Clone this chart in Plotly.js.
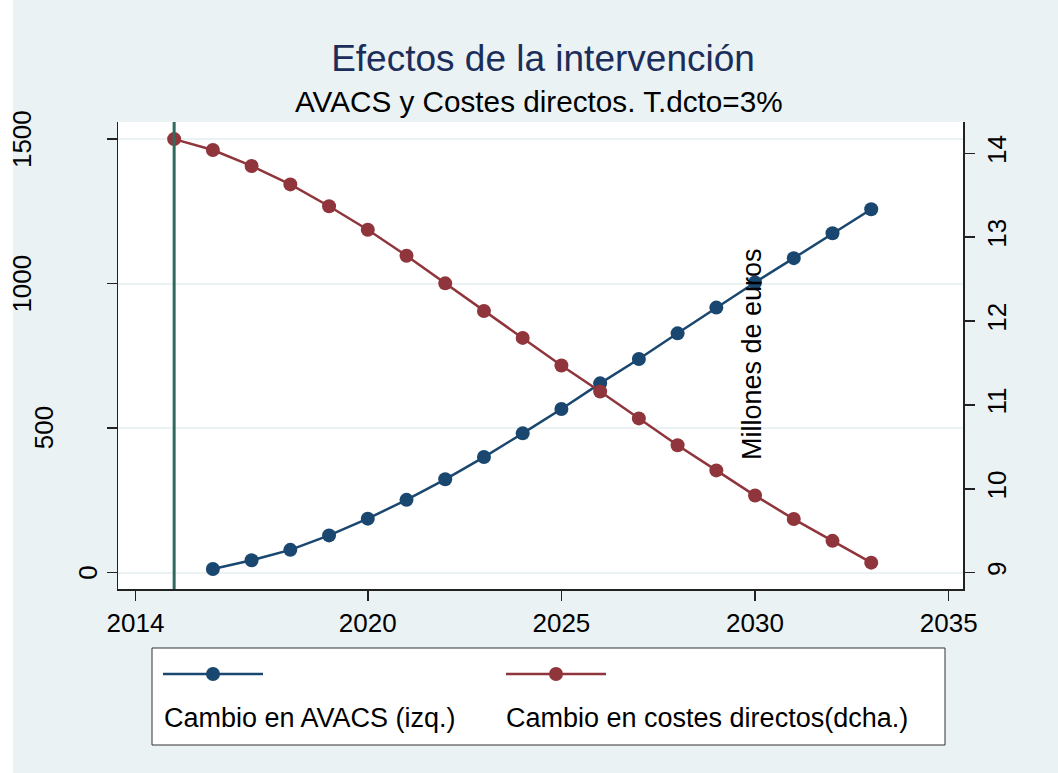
<!DOCTYPE html>
<html>
<head>
<meta charset="utf-8">
<script src="https://cdn.plot.ly/plotly-3.0.1.min.js"></script>
<style>
  html, body { margin: 0; padding: 0; background: #EAF2F3; }
  #chart { width: 1058px; height: 773px; }
</style>
</head>
<body>
<div id="chart"></div>
<script>
// ---- data ----
const titleText = "Efectos de la intervención";
const subtitleText = "AVACS y Costes directos. T.dcto=3%";
const yearsAvacs = [2016, 2017, 2018, 2019, 2020, 2021, 2022, 2023, 2024, 2025, 2026, 2027, 2028, 2029, 2030, 2031, 2032, 2033];
const avacs = [13, 43, 79, 129, 187, 252, 323, 400, 482, 566, 655, 739, 828, 917, 1004, 1088, 1174, 1257];
const yearsCostes = [2015, 2016, 2017, 2018, 2019, 2020, 2021, 2022, 2023, 2024, 2025, 2026, 2027, 2028, 2029, 2030, 2031, 2032, 2033];
const costes = [14.17, 14.04, 13.85, 13.63, 13.37, 13.09, 12.78, 12.45, 12.12, 11.80, 11.47, 11.16, 10.84, 10.52, 10.22, 9.92, 9.64, 9.38, 9.12];
const interventionYear = 2015;
const xTicks = [2014, 2020, 2025, 2030, 2035];
const yLeftTicks = [0, 500, 1000, 1500];
const yRightTicks = [9, 10, 11, 12, 13, 14];
const seriesNames = ["Cambio en AVACS (izq.)", "Cambio en costes directos(dcha.)"];
const rightAxisTitle = "Millones de euros";

// ---- styles ----
const FONT = "Liberation Sans, Arial, sans-serif";
const BLUE = "#1A476F";
const RED = "#90353B";
const GREEN = "#2E6B5E";
const AXIS = "#222222";
const GRID = "#EAF2F3";

const traces = [
  {
    x: yearsAvacs, y: avacs, type: "scatter", mode: "lines+markers",
    name: seriesNames[0], yaxis: "y",
    line: { color: BLUE, width: 2.5 },
    marker: { color: BLUE, size: 14 },
    showlegend: false
  },
  {
    x: yearsCostes, y: costes, type: "scatter", mode: "lines+markers",
    name: seriesNames[1], yaxis: "y2",
    line: { color: RED, width: 2.5 },
    marker: { color: RED, size: 14 },
    showlegend: false
  }
];

// plot area in pixels: x 118..963, y 122..589
const L = 118, R = 963, T = 122, B = 589;
const W = R - L, H = B - T;
const px = v => (v - L) / W;
const py = v => (B - v) / H;

const annotations = [
  { text: subtitleText, xref: "paper", yref: "paper", x: px(539), y: py(101),
    xanchor: "center", yanchor: "middle", showarrow: false,
    font: { family: FONT, size: 29.7, color: "#000" } },
  { text: rightAxisTitle, xref: "paper", yref: "paper", x: px(752), y: py(354),
    xanchor: "center", yanchor: "middle", showarrow: false, textangle: -90,
    font: { family: FONT, size: 27, color: "#000" } },
  { text: seriesNames[0], xref: "paper", yref: "paper", x: px(162), y: py(718),
    xanchor: "left", yanchor: "middle", showarrow: false,
    font: { family: FONT, size: 27, color: "#000" } },
  { text: seriesNames[1], xref: "paper", yref: "paper", x: px(504), y: py(718),
    xanchor: "left", yanchor: "middle", showarrow: false,
    font: { family: FONT, size: 27, color: "#000" } }
];
// left tick labels (Stata-style vertical labels, offset grows with label length)
yLeftTicks.forEach(v => {
  const n = String(v).length;
  annotations.push({
    text: String(v), xref: "paper", yref: "y", x: 0, y: v,
    xanchor: "center", yanchor: "middle", showarrow: false, textangle: -90,
    xshift: -8 - 22 * n,
    font: { family: FONT, size: 26, color: "#000" }
  });
});

const shapes = [
  // thin white strip at the left edge of the picture
  { type: "rect", xref: "paper", yref: "paper", x0: px(0), x1: px(13), y0: py(773), y1: py(0),
    fillcolor: "#FFFFFF", line: { width: 0 }, layer: "below" },
  { type: "line", xref: "x", yref: "paper", x0: interventionYear, x1: interventionYear, y0: 0, y1: 1,
    line: { color: GREEN, width: 3 } },
  // legend box
  { type: "rect", xref: "paper", yref: "paper", x0: px(152), x1: px(945), y0: py(648), y1: py(745),
    fillcolor: "#FFFFFF", line: { color: "#333333", width: 1 }, layer: "below" },
  { type: "line", xref: "paper", yref: "paper", x0: px(163), x1: px(263), y0: py(674), y1: py(674),
    line: { color: BLUE, width: 2.5 } },
  { type: "circle", xref: "paper", yref: "paper", xsizemode: "pixel", ysizemode: "pixel",
    xanchor: px(213), yanchor: py(674), x0: -7, x1: 7, y0: -7, y1: 7,
    fillcolor: BLUE, line: { color: BLUE, width: 0 } },
  { type: "line", xref: "paper", yref: "paper", x0: px(506), x1: px(606), y0: py(674), y1: py(674),
    line: { color: RED, width: 2.5 } },
  { type: "circle", xref: "paper", yref: "paper", xsizemode: "pixel", ysizemode: "pixel",
    xanchor: px(556), yanchor: py(674), x0: -7, x1: 7, y0: -7, y1: 7,
    fillcolor: RED, line: { color: RED, width: 0 } }
];

const layout = {
  width: 1058, height: 773,
  paper_bgcolor: "#EAF2F3", plot_bgcolor: "#FFFFFF",
  margin: { l: L, r: 1058 - R, t: T, b: 773 - B, pad: 0 },
  font: { family: FONT, color: "#000" },
  title: { text: titleText, x: px(543), xref: "paper", xanchor: "center",
    y: 1 - 58 / 773, yref: "container", yanchor: "middle",
    font: { family: FONT, size: 37, color: "#1C2D5A" } },
  showlegend: false,
  xaxis: {
    range: [2013.55, 2035.37], tickvals: xTicks, ticktext: xTicks.map(String),
    showgrid: false, zeroline: false, showline: true, linecolor: AXIS, linewidth: 1.5,
    ticks: "outside", ticklen: 10, tickwidth: 1.5, tickcolor: AXIS,
    tickfont: { family: FONT, size: 26, color: "#000" }
  },
  yaxis: {
    range: [-56.4, 1559], tickvals: yLeftTicks, showticklabels: false,
    showgrid: true, gridcolor: GRID, gridwidth: 2, zeroline: false,
    showline: true, linecolor: AXIS, linewidth: 1.5,
    ticks: "outside", ticklen: 10, tickwidth: 1.5, tickcolor: AXIS
  },
  yaxis2: {
    overlaying: "y", side: "right",
    range: [8.806, 14.374], tickvals: yRightTicks, ticktext: yRightTicks.map(String),
    tickangle: -90, showgrid: false, zeroline: false,
    showline: true, linecolor: AXIS, linewidth: 1.5,
    ticks: "outside", ticklen: 10, tickwidth: 1.5, tickcolor: AXIS,
    tickfont: { family: FONT, size: 26, color: "#000" }
  },
  shapes: shapes,
  annotations: annotations
};

Plotly.newPlot("chart", traces, layout, { displayModeBar: false, staticPlot: true });
</script>
</body>
</html>
